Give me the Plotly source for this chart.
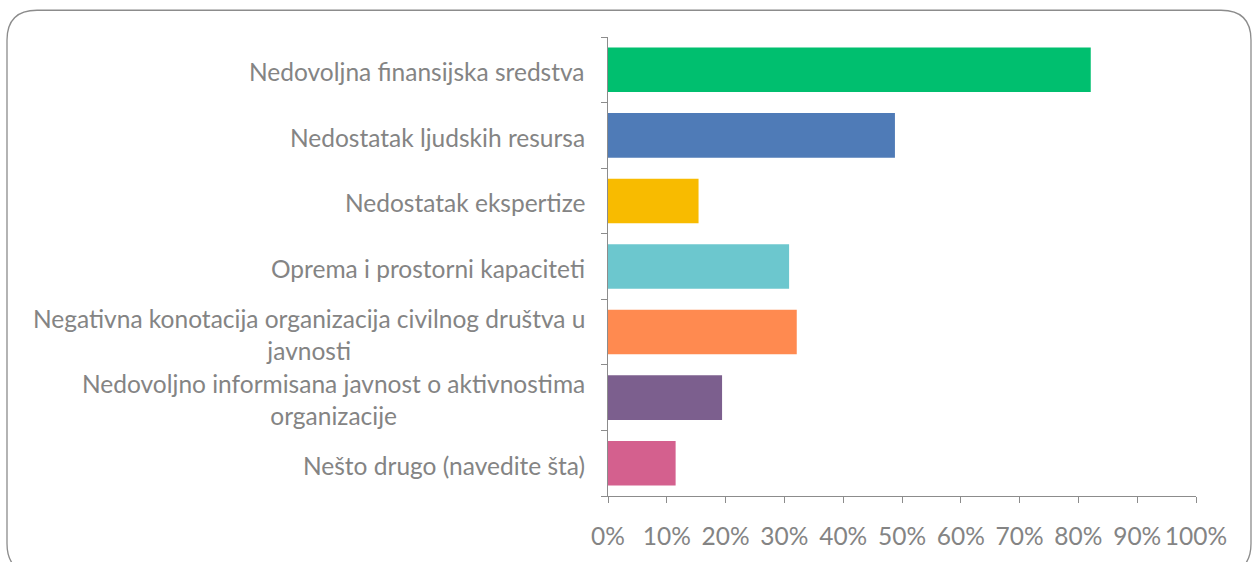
import plotly.graph_objects as go

categories = [
    "Nedovoljna finansijska sredstva",
    "Nedostatak ljudskih resursa",
    "Nedostatak ekspertize",
    "Oprema i prostorni kapaciteti",
    "Negativna konotacija organizacija civilnog društva u<br>javnosti",
    "Nedovoljno informisana javnost o aktivnostima<br>organizacije",
    "Nešto drugo (navedite šta)",
]
values = [0.821, 0.488, 0.154, 0.308, 0.321, 0.194, 0.115]
colors = ["#00BF6F", "#4F7BB7", "#F8BB00", "#6CC7CE", "#FF8A50", "#7C5F8E", "#D4608E"]
x_ticks = [i / 10 for i in range(11)]
x_labels = [f"{i * 10}%" for i in range(11)]

W, H = 1254, 562
L, R, T, B = 608, 58, 37, 62
GRAY = "#848484"
FONT = "Lato, Noto Sans, sans-serif"
FSIZE = 24.5

fig = go.Figure(go.Bar(
    x=values, y=list(range(len(categories))), orientation="h",
    marker=dict(color=colors, line=dict(width=0)),
    width=0.68, hoverinfo="skip",
))

# category labels as annotations so wrapped lines stay centred
for i, lab in enumerate(categories):
    fig.add_annotation(
        x=0, xref="paper", y=i, yref="y", text=lab, showarrow=False,
        xanchor="right", xshift=-21, yshift=-2, align="center",
        font=dict(family=FONT, size=FSIZE, color=GRAY),
    )

# rounded frame around the whole chart (pixel -> paper)
pw, ph = W - L - R, H - T - B
def px(x): return (x - L) / pw
def py(y): return (H - B - y) / ph
x0, y0, x1, y1, r = 7, 10, 1251, 578, 30
path = (f"M {px(x0 + r)} {py(y0)} L {px(x1 - r)} {py(y0)} "
        f"Q {px(x1)} {py(y0)} {px(x1)} {py(y0 + r)} L {px(x1)} {py(y1 - r)} "
        f"Q {px(x1)} {py(y1)} {px(x1 - r)} {py(y1)} L {px(x0 + r)} {py(y1)} "
        f"Q {px(x0)} {py(y1)} {px(x0)} {py(y1 - r)} L {px(x0)} {py(y0 + r)} "
        f"Q {px(x0)} {py(y0)} {px(x0 + r)} {py(y0)} Z")
fig.add_shape(type="path", path=path, xref="paper", yref="paper",
              line=dict(color="#8c8c8c", width=1.3), layer="below")

fig.update_layout(
    width=W, height=H,
    margin=dict(l=L, r=R, t=T, b=B),
    paper_bgcolor="white", plot_bgcolor="white",
    showlegend=False,
    font=dict(family=FONT, color=GRAY),
)
fig.update_xaxes(
    range=[0, 1], tickvals=x_ticks, ticktext=x_labels,
    showgrid=False, zeroline=False,
    showline=True, linecolor="#8c8c8c", linewidth=1,
    ticks="outside", ticklen=6, tickcolor="#8c8c8c",
    tickfont=dict(family=FONT, size=FSIZE, color=GRAY),
    ticklabelstandoff=13,
)
fig.update_yaxes(
    range=[len(categories) - 0.5, -0.5],
    tickvals=[i - 0.5 for i in range(len(categories) + 1)],
    showticklabels=False, showgrid=False, zeroline=False,
    showline=True, linecolor="#8c8c8c", linewidth=1,
    ticks="outside", ticklen=6, tickcolor="#8c8c8c",
)

# drop the default page margin so the figure sits at the window corner
fig.write_html("out.html", config={"displayModeBar": False},
               post_script="document.body.style.margin='0';")
